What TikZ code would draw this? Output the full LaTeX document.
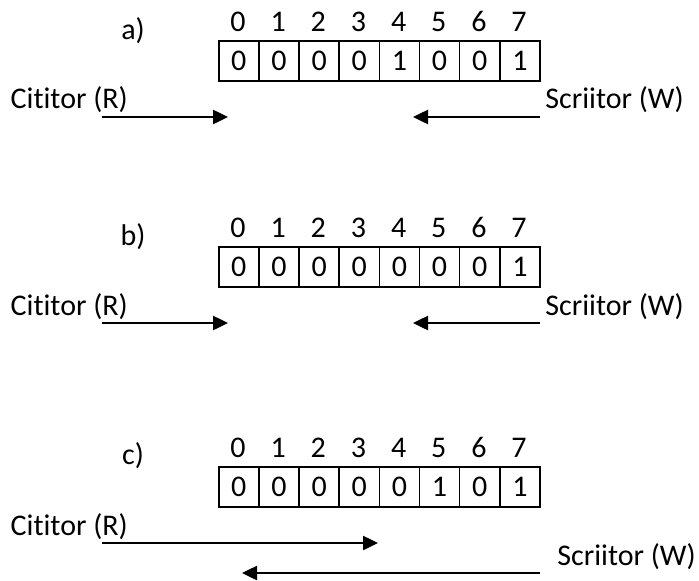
\documentclass[tikz,border=0pt]{standalone}
\usepackage{fontspec}
\setmainfont{Carlito}[Ligatures=NoCommon]
\usetikzlibrary{arrows.meta}
\begin{document}
\begin{tikzpicture}[x=1pt,y=-1pt,
  txt/.style={font=\fontsize{30}{36}\selectfont,inner sep=0pt},
  cell/.style={txt,draw,line width=1.5pt,minimum width=40.15pt,minimum height=40pt,anchor=north west},
  idx/.style={txt,anchor=base},
  arr/.style={line width=2.5pt,-{Triangle[length=15pt,width=14pt]}}]
\useasboundingbox (0,0) rectangle (699,581);

% three states of the 8-bit buffer: label, indices and cell values
\foreach \r/\top/\vals/\lb in {a/40/{0,0,0,0,1,0,0,1}/39,
                               b/246/{0,0,0,0,0,0,0,1}/245,
                               c/466/{0,0,0,0,0,1,0,1}/464}{
  \node[txt,anchor=base] (\r lbl) at (133,\lb) {\r)};
  \foreach \v [count=\i from 0] in \vals{
    \node[cell] (\r\i) at ({218+40.15*\i},\top) {\v};
    \node[idx] (\r i\i) at ({238+40.15*\i},\top-9) {\i};
  }
}

% reader / writer labels
\node[txt,anchor=base west] (aR) at (10.5,108) {Cititor (R)};
\node[txt,anchor=base east] (aW) at (684,108) {Scriitor (W)};
\node[txt,anchor=base west] (bR) at (10.5,315) {Cititor (R)};
\node[txt,anchor=base east] (bW) at (684,315) {Scriitor (W)};
\node[txt,anchor=base west] (cR) at (10.5,535) {Cititor (R)};
\node[txt,anchor=base east] (cW) at (696,565) {Scriitor (W)};

% pointer arrows
\coordinate (aRs) at (102,117); \coordinate (aRe) at (228,117);
\coordinate (aWs) at (540,117); \coordinate (aWe) at (413,117);
\coordinate (bRs) at (102,323); \coordinate (bRe) at (228,323);
\coordinate (bWs) at (540,323); \coordinate (bWe) at (413,323);
\coordinate (cRs) at (102,543); \coordinate (cRe) at (378,543);
\coordinate (cWs) at (540,573); \coordinate (cWe) at (242,573);
\draw[arr] (aRs) -- (aRe);
\draw[arr] (aWs) -- (aWe);
\draw[arr] (bRs) -- (bRe);
\draw[arr] (bWs) -- (bWe);
\draw[arr] (cRs) -- (cRe);
\draw[arr] (cWs) -- (cWe);
\end{tikzpicture}
\end{document}
